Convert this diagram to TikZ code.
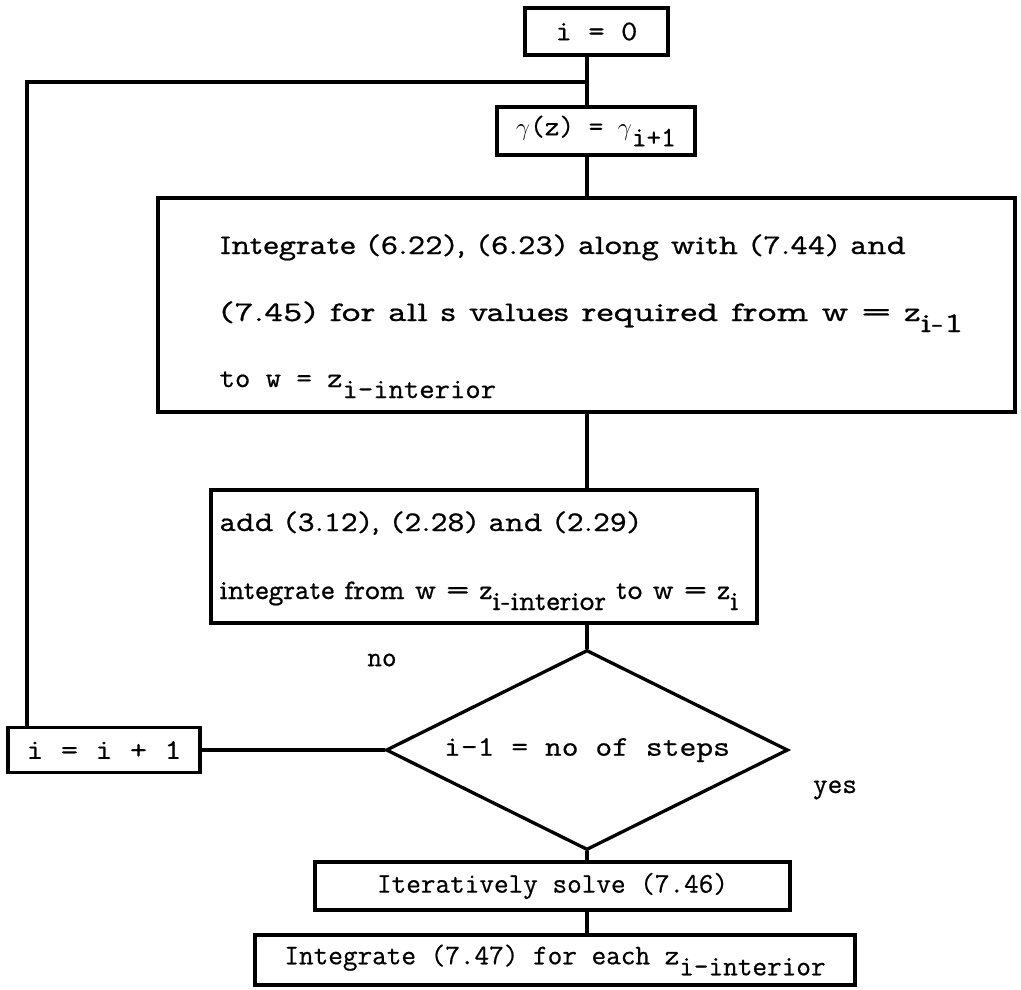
\documentclass[tikz,border=0pt]{standalone}
\usepackage{fontspec}
\usepackage{graphicx}
\usepackage{tikz}
\usetikzlibrary{shapes.geometric,calc}
\setmonofont{Latin Modern Mono}[FakeBold=0.6]
\newfontfamily\propfont{Latin Modern Mono Prop}[FakeBold=0.6]
\newcommand{\dn}[1]{\raisebox{-11pt}{#1}}
\newcommand{\hstretch}[2]{\scalebox{#1}[1]{#2}}

\begin{document}
\begin{tikzpicture}[x=1pt,y=-1pt,line width=3.3pt,line cap=round,line join=miter,
    every node/.style={font=\fontsize{28.4}{34}\selectfont\ttfamily,inner sep=0pt},
    box/.style={draw,rectangle},
    cond/.style={draw,diamond,aspect=2},
    txt/.style={anchor=base west},
    ptxt/.style={anchor=base west,font=\fontsize{28.4}{34}\selectfont\propfont}]
    \useasboundingbox (0,0) rectangle (1021,990);
    \coordinate (spine) at (587,0);
    \coordinate (merge) at (587,82);
    \coordinate (lft) at (27,82);

    \node[box,minimum width=143pt,minimum height=47pt] (start) at (596.5,31.5) {\hstretch{1.12}{i = 0}};
    \node[box,minimum width=198pt,minimum height=48pt] (gam) at (596,131) {$\gamma$(z) = $\gamma$\dn{i+1}};
    \node[box,minimum width=857pt,minimum height=214pt] (integ) at (586.5,305) {};
    \node[ptxt] (intega) at (218,254) {\hstretch{1.168}{Integrate (6.22), (6.23) along with (7.44) and}};
    \node[ptxt] (integb) at (218,321) {\hstretch{1.28}{(7.45) for all s values required from w = z\dn{i-1}}};
    \node[txt] (integc) at (218,387) {\hstretch{1.05}{to w = z\dn{i-interior}}};
    \node[box,minimum width=546pt,minimum height=133pt] (add) at (484,556.5) {};
    \node[ptxt] (adda) at (218,531) {\hstretch{1.13}{add (3.12), (2.28) and (2.29)}};
    \node[ptxt] (addb) at (218,599) {integrate from w = z\dn{i-interior} to w = z\dn{i}};
    \node[cond,minimum width=402pt,minimum height=200pt] (test) at (587,750) {\hstretch{1.15}{i-1 = no of steps}};
    \node (no) at (382,660) {no};
    \node (yes) at (835,790) {yes};
    \node[box,minimum width=192pt,minimum height=45pt] (inc) at (104,750) {\hstretch{1.18}{i = i + 1}};
    \node[box,minimum width=475pt,minimum height=48pt] (solve) at (552.5,886) {Iteratively solve (7.46)};
    \node[box,minimum width=600pt,minimum height=50pt] (final) at (555,960) {Integrate (7.47) for each z\dn{i-interior}};

    \draw (start.south -| spine) -- (gam.north -| spine);
    \draw (gam.south -| spine) -- (integ.north -| spine);
    \draw (integ.south -| spine) -- (add.north -| spine);
    \draw (add.south -| spine) -- (test.north);
    \draw (test.south) -- (solve.north -| test.south);
    \draw (solve.south -| test.south) -- (final.north -| test.south);
    \draw (test.west) -- (inc.east);
    \draw (inc.north -| lft) -- (lft) -- (merge);
\end{tikzpicture}
\end{document}
